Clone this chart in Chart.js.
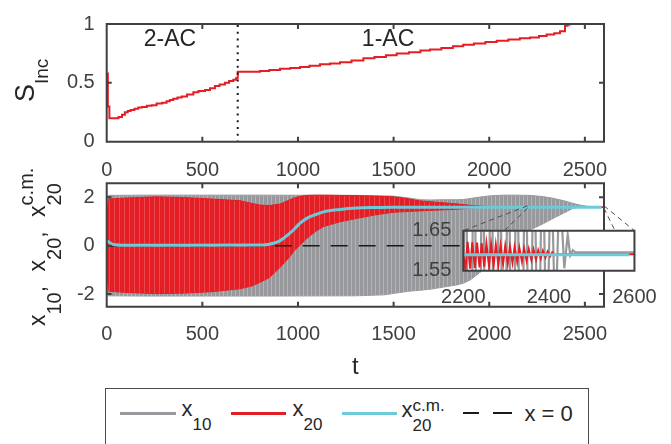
<!DOCTYPE html>
<html lang="en">
<head>
<meta charset="utf-8">
<title>S_Inc and oscillator traces</title>
<script src="https://cdn.jsdelivr.net/npm/chart.js@4.4.1/dist/chart.umd.min.js"></script>
<style>
  html, body { margin: 0; padding: 0; background: #fff; }
  body { position: relative; width: 671px; height: 444px; overflow: hidden;
         font-family: "Liberation Sans", Arial, Helvetica, sans-serif; color: #262626; }
  canvas { position: absolute; }
  .rot { position: absolute; left: 0; white-space: nowrap; transform-origin: 0 0; transform: rotate(-90deg); }
  .txt { position: absolute; white-space: nowrap; font-size: 22px; line-height: 22px; }
  .sb, .sp { position: relative; }
  #legend { position: absolute; left: 105px; top: 388px; width: 484px; height: 80px;
            border: 1px solid #4a4a4a; box-sizing: border-box; }
  .key { position: absolute; }
</style>
</head>
<body>
<canvas id="cTop"></canvas>
<canvas id="cMid"></canvas>
<canvas id="cZoom"></canvas>

<!-- axis titles -->
<div class="rot" style="left:12px; top:102px; font-size:27px; line-height:27px;">S<span class="sb" style="font-size:19px; top:14px;">Inc</span></div>
<div class="rot" style="left:25.5px; top:326px; font-size:23px; line-height:23px;">x<span class="sb" style="font-size:20px; top:16px;">10</span><span style="margin-right:8px">,</span> x<span class="sb" style="font-size:20px; top:16px;">20</span><span style="margin-right:8px">,</span> x<span class="sb" style="font-size:20px; top:16px;">20</span><span class="sp" style="font-size:20px; top:-12px; margin-left:-22.2px;">c.m.</span></div>

<!-- legend -->
<div id="legend"></div>
<div class="key" style="left:120px; top:411.5px; width:56px; height:3px; background:#98999c;"></div>
<div class="key" style="left:231px; top:411.5px; width:55px; height:3px; background:#e31e25;"></div>
<div class="key" style="left:342px; top:411.5px; width:55px; height:3px; background:#6dcad8;"></div>
<div class="key" style="left:463px; top:412.3px; width:16px; height:1.5px; background:#1a1a1a;"></div>
<div class="key" style="left:493px; top:412.3px; width:19px; height:1.5px; background:#1a1a1a;"></div>
<div class="txt" style="left:181.5px; top:398.4px;">x<span class="sb" style="font-size:17px; top:14px;">10</span></div>
<div class="txt" style="left:292.5px; top:398.4px;">x<span class="sb" style="font-size:17px; top:14px;">20</span></div>
<div class="txt" style="left:401.5px; top:399.4px;">x<span class="sb" style="font-size:17px; top:14px;">20</span><span class="sp" style="font-size:17px; top:-6.5px; margin-left:-18.9px;">c.m.</span></div>
<div class="txt" style="left:524.5px; top:403.4px;">x = 0</div>

<script>
// ---------------- data ----------------
// time axis ticks
const tTicks = [0, 500, 1000, 1500, 2000, 2500];

// S_Inc staircase (value holds from each time until the next)
const sIncT = [0, 6, 14, 62, 80, 95, 110, 125, 145, 165, 185, 210, 235, 261, 290, 313, 330, 348, 370, 392,
  420, 453, 480, 514, 540, 566, 590, 618, 640, 662, 676, 685, 801, 850, 906, 960, 1011, 1060, 1115, 1168,
  1220, 1280, 1342, 1400, 1460, 1516, 1580, 1640, 1690, 1750, 1810, 1864, 1920, 1980, 2039, 2100, 2160, 2213, 2260, 2300,
  2340, 2370, 2396, 2410, 2422, 2600];
const sIncV = [0.58, 0.30, 0.20, 0.21, 0.23, 0.25, 0.26, 0.27, 0.28, 0.29, 0.295, 0.305, 0.31, 0.325, 0.33, 0.343, 0.355, 0.365, 0.375, 0.384,
  0.40, 0.42, 0.43, 0.44, 0.455, 0.473, 0.485, 0.50, 0.515, 0.527, 0.54, 0.595, 0.60, 0.61, 0.62, 0.627, 0.635, 0.645, 0.657, 0.665,
  0.676, 0.69, 0.708, 0.72, 0.735, 0.749, 0.76, 0.775, 0.784, 0.797, 0.81, 0.824, 0.835, 0.847, 0.857, 0.868, 0.878, 0.886, 0.897, 0.91,
  0.922, 0.938, 0.986, 0.995, 1.0, 1.0];
const sIncTicks = [0, 0.5, 1];
const regimeBoundaryT = 685;
const regimeNames = ['2-AC', '1-AC'];

// x10 oscillation envelope
const x10T  = [0, 8, 200, 800, 1300, 1450, 1500, 1580, 1640, 1690, 1760, 1830, 1864, 1900, 1960, 2000, 2073, 2140, 2213, 2280, 2334, 2390, 2439, 2470, 2510, 2600];
const x10Hi = [1.40, 2.08, 2.09, 2.09, 2.08, 2.06, 2.05, 1.97, 1.90, 1.89, 1.90, 1.90, 1.91, 1.95, 2.02, 2.06, 2.09, 2.09, 2.08, 2.03, 1.96, 1.86, 1.75, 1.69, 1.63, 1.60];
const x10Lo = [-1.90, -2.07, -2.08, -2.08, -2.07, -2.03, -1.97, -1.88, -1.84, -1.80, -1.71, -1.62, -1.55, -1.42, -1.05, -0.70, -0.20, 0.25, 0.65, 0.90, 1.13, 1.35, 1.55, 1.58, 1.59, 1.59];

// x20 oscillation envelope
const x20T  = [0, 12, 100, 260, 400, 550, 697, 760, 800, 850, 906, 958, 976, 1011, 1046, 1090, 1133, 1220, 1307, 1400,
  1497, 1560, 1638, 1720, 1812, 1864, 1900, 1950, 2000, 2100, 2600];
const x20Hi = [1.20, 1.93, 1.97, 2.02, 1.99, 1.93, 1.86, 1.75, 1.68, 1.66, 1.72, 1.90, 1.96, 2.04, 2.08, 2.09, 2.09, 2.08, 2.07, 2.05,
  2.02, 1.96, 1.85, 1.80, 1.74, 1.70, 1.67, 1.64, 1.62, 1.61, 1.60];
const x20Lo = [-1.10, -1.88, -1.93, -1.98, -1.96, -1.90, -1.78, -1.66, -1.52, -1.32, -0.90, -0.45, -0.25, 0.02, 0.30, 0.58, 0.79, 0.99, 1.13, 1.27,
  1.38, 1.41, 1.44, 1.47, 1.50, 1.53, 1.56, 1.58, 1.59, 1.59, 1.59];

// centre-of-mass trace of x20
const cmT = [0, 10, 25, 45, 80, 400, 820, 850, 870, 900, 923, 950, 976, 1011, 1046, 1090, 1133, 1220, 1307, 1400, 1500, 2588];
const cmV = [0.20, 0.16, 0.08, 0.04, 0.02, 0.02, 0.03, 0.06, 0.10, 0.18, 0.30, 0.47, 0.65, 0.93, 1.13, 1.28, 1.40, 1.50, 1.56, 1.58, 1.59, 1.59];

// reference line x = 0
const zeroT = [0, 2600];
const zeroV = [0, 0];
const xTicksMid = [-2, 0, 2];

// magnified window
const zoomT = [2200, 2600];
const zoomV = [1.55, 1.65];
const zoomTTicks = [2200, 2400, 2600];
const zoomVTicks = [1.55, 1.65];
// x10 swings inside the window
const x10ZoomT = [2200, 2205, 2215, 2225, 2235, 2245, 2255, 2265, 2275, 2285, 2295, 2305, 2315, 2325, 2335, 2345, 2355, 2365, 2375, 2385,
  2395, 2405, 2415, 2425, 2436, 2444, 2450, 2456, 2462, 2600];
const x10ZoomV = [1.40, 2.08, 0.70, 2.08, 0.75, 2.07, 0.80, 2.06, 0.85, 2.04, 0.90, 2.02, 0.95, 2.00, 1.00, 1.98, 1.10, 1.94, 1.20, 1.90,
  1.30, 1.85, 1.40, 1.78, 1.556, 1.64, 1.588, 1.601, 1.596, 1.596];
// x20 swings inside the window
const x20ZoomT = [2200, 2205, 2210, 2216, 2221, 2227, 2232, 2238, 2243, 2249, 2254, 2260, 2265, 2271, 2276, 2282, 2287, 2293, 2298, 2304,
  2309, 2315, 2320, 2326, 2331, 2337, 2342, 2348, 2353, 2359, 2364, 2370, 2375, 2381, 2386, 2392, 2397, 2403, 2408, 2414, 2420, 2600];
const x20ZoomV = [1.590, 1.553, 1.622, 1.555, 1.621, 1.557, 1.620, 1.558, 1.619, 1.560, 1.618, 1.562, 1.616, 1.563, 1.615, 1.565, 1.613, 1.567, 1.612, 1.568,
  1.610, 1.570, 1.609, 1.572, 1.607, 1.573, 1.606, 1.575, 1.604, 1.577, 1.603, 1.578, 1.601, 1.580, 1.600, 1.583, 1.598, 1.586, 1.596, 1.589, 1.591, 1.591];

// ---------------- style ----------------
const INK = '#404040';
const GRAY = '#98999c';
const RED = '#e31e25';
const CYAN = '#6dcad8';
const FONT = '"Liberation Sans", Arial, Helvetica, sans-serif';

Chart.defaults.font.family = FONT;
Chart.defaults.font.size = 20;
Chart.defaults.color = INK;
Chart.defaults.animation = false;
Chart.defaults.events = [];
Chart.defaults.plugins.legend.display = false;
Chart.defaults.plugins.tooltip.enabled = false;
Chart.defaults.elements.point.radius = 0;

const pts = (ts, vs) => ts.map((t, i) => ({ x: t, y: vs[i] }));

// faint vertical streaks, as left by densely packed oscillation strokes
function streaks(base, light, period) {
  const c = document.createElement('canvas');
  c.width = period; c.height = 1;
  const g = c.getContext('2d');
  g.fillStyle = base; g.fillRect(0, 0, period, 1);
  g.fillStyle = light; g.fillRect(period - 1, 0, 1, 1);
  return g.createPattern(c, 'repeat');
}

// canvas placement on the page
const TOP = { left: 0, top: 0, w: 671, h: 190 };
const MID = { left: 0, top: 155, w: 671, h: 230 };
const ZOOM = { left: 400, top: 195, w: 271, h: 115 };

function place(id, p) {
  const c = document.getElementById(id);
  c.width = p.w; c.height = p.h;
  c.style.left = p.left + 'px'; c.style.top = p.top + 'px';
  c.style.width = p.w + 'px'; c.style.height = p.h + 'px';
  return c;
}

const fixedTicks = values => scale => { scale.ticks = values.map(v => ({ value: v })); };

function axisX(min, max, ticks, height, pad, title) {
  return {
    type: 'linear', position: 'bottom', min, max,
    grid: { display: false, drawTicks: false }, border: { display: false },
    afterBuildTicks: fixedTicks(ticks),
    afterFit: s => { s.height = height; },
    ticks: { padding: pad, maxRotation: 0, autoSkip: false, color: INK, callback: v => String(v) },
    title: title || { display: false }
  };
}
function axisY(min, max, ticks, width, pad) {
  return {
    type: 'linear', position: 'left', min, max,
    grid: { display: false, drawTicks: false }, border: { display: false },
    afterBuildTicks: fixedTicks(ticks),
    afterFit: s => { s.width = width; },
    ticks: { padding: pad, autoSkip: false, color: INK, callback: v => String(v) }
  };
}

// box around the plot area with inward tick marks on all four sides
function frame(tickLen) {
  return {
    id: 'frame',
    afterDraw(chart) {
      const { ctx, chartArea: a, scales: { x, y } } = chart;
      ctx.save();
      ctx.strokeStyle = INK;
      ctx.lineWidth = 2;
      ctx.beginPath();
      if (tickLen > 0) {
        x.ticks.forEach(t => {
          const p = x.getPixelForValue(t.value);
          ctx.moveTo(p, a.bottom); ctx.lineTo(p, a.bottom - tickLen);
          ctx.moveTo(p, a.top); ctx.lineTo(p, a.top + tickLen);
        });
        y.ticks.forEach(t => {
          const p = y.getPixelForValue(t.value);
          ctx.moveTo(a.left, p); ctx.lineTo(a.left + tickLen, p);
          ctx.moveTo(a.right, p); ctx.lineTo(a.right - tickLen, p);
        });
      }
      ctx.rect(a.left, a.top, a.right - a.left, a.bottom - a.top);
      ctx.stroke();
      ctx.restore();
    }
  };
}

// dotted regime boundary and regime names
const regimes = {
  id: 'regimes',
  afterDatasetsDraw(chart) {
    const { ctx, chartArea: a, scales: { x, y } } = chart;
    const px = x.getPixelForValue(regimeBoundaryT);
    ctx.save();
    ctx.strokeStyle = '#1a1a1a';
    ctx.lineWidth = 2;
    ctx.setLineDash([2, 4.8]);
    ctx.beginPath(); ctx.moveTo(px, a.top + 1); ctx.lineTo(px, a.bottom); ctx.stroke();
    ctx.setLineDash([]);
    ctx.fillStyle = '#262626';
    ctx.font = '23px ' + FONT;
    ctx.textAlign = 'center';
    ctx.textBaseline = 'middle';
    const at = [{ t: 331, s: 0.865 }, { t: 1471, s: 0.865 }];
    regimeNames.forEach((name, i) => ctx.fillText(name, x.getPixelForValue(at[i].t), y.getPixelForValue(at[i].s)));
    ctx.restore();
  }
};

// ---------------- top panel: S_Inc ----------------
place('cTop', TOP);
new Chart(document.getElementById('cTop'), {
  type: 'line',
  data: { datasets: [{ data: pts(sIncT, sIncV), stepped: true, borderColor: RED, borderWidth: 2, fill: false }] },
  options: {
    responsive: false, maintainAspectRatio: false, devicePixelRatio: 1,
    layout: { padding: { top: 18.3, right: 67, bottom: 0, left: 0 } },
    scales: {
      x: axisX(0, 2600, tTicks, TOP.h - 141.7, 16.3),
      y: axisY(0, 1, sIncTicks, 106.7, 12)
    }
  },
  plugins: [regimes, frame(5)]
});

// ---------------- middle panel: x10, x20 ----------------
place('cMid', MID);
const midChart = new Chart(document.getElementById('cMid'), {
  type: 'line',
  data: {
    datasets: [
      { label: 'x20 c.m.', data: pts(cmT, cmV), borderColor: CYAN, borderWidth: 3, cubicInterpolationMode: 'monotone', fill: false },
      { label: 'x = 0', data: pts(zeroT, zeroV), borderColor: '#1a1a1a', borderWidth: 1.3, borderDash: [17, 11], fill: false },
      { label: 'x20', data: pts(x20T, x20Hi), borderColor: RED, backgroundColor: streaks(RED, '#e8474d', 5), borderWidth: 1, fill: '+1' },
      { label: 'x20 low', data: pts(x20T, x20Lo), borderColor: RED, borderWidth: 1, fill: false },
      { label: 'x10', data: pts(x10T, x10Hi), borderColor: GRAY, backgroundColor: streaks(GRAY, '#b3b4b7', 4), borderWidth: 1, fill: '+1' },
      { label: 'x10 low', data: pts(x10T, x10Lo), borderColor: GRAY, borderWidth: 1, fill: false }
    ]
  },
  options: {
    responsive: false, maintainAspectRatio: false, devicePixelRatio: 1,
    layout: { padding: { top: 183.3 - MID.top, right: 67, bottom: 0, left: 0 } },
    scales: {
      x: axisX(0, 2600, tTicks, MID.top + MID.h - 306.7, 15.3,
        { display: true, text: 't', color: '#262626', font: { size: 24 }, padding: { top: 0, bottom: 3 } }),
      y: axisY(-2.52, 2.58, xTicksMid, 106.7, 12)
    }
  },
  plugins: [frame(5)]
});

// ---------------- magnified window ----------------
const zoomBackdrop = {
  id: 'zoomBackdrop',
  beforeDatasetsDraw(chart) {
    const { ctx, chartArea: a } = chart;
    const sx = midChart.scales.x, sy = midChart.scales.y;
    const dx = MID.left - ZOOM.left, dy = MID.top - ZOOM.top;
    const src = (t, v) => [sx.getPixelForValue(t) + dx, sy.getPixelForValue(v) + dy];
    const links = [
      [src(zoomT[0], zoomV[1]), [a.left, a.top]],
      [src(zoomT[0], zoomV[0]), [a.left, a.bottom]],
      [src(zoomT[1], zoomV[1]), [a.right, a.top]],
      [src(zoomT[1], zoomV[0]), [a.right, a.bottom]]
    ];
    ctx.save();
    ctx.strokeStyle = '#4d4d4d';
    ctx.lineWidth = 1;
    ctx.setLineDash([5, 4]);
    ctx.beginPath();
    links.forEach(([p, q]) => { ctx.moveTo(p[0], p[1]); ctx.lineTo(q[0], q[1]); });
    ctx.stroke();
    ctx.setLineDash([]);
    ctx.fillStyle = '#fff';
    ctx.fillRect(a.left, a.top, a.right - a.left, a.bottom - a.top);
    ctx.restore();
  }
};

place('cZoom', ZOOM);
new Chart(document.getElementById('cZoom'), {
  type: 'line',
  data: {
    datasets: [
      { data: pts(cmT, cmV), borderColor: CYAN, borderWidth: 3, fill: false, clip: 0 },
      { data: pts(x20ZoomT, x20ZoomV), borderColor: RED, borderWidth: 2, fill: false, clip: 0 },
      { data: pts(x10ZoomT, x10ZoomV), borderColor: GRAY, borderWidth: 2.2, fill: false, clip: 0 }
    ]
  },
  options: {
    responsive: false, maintainAspectRatio: false, devicePixelRatio: 1,
    layout: { padding: { top: 230.7 - ZOOM.top, right: ZOOM.left + ZOOM.w - 637, bottom: 0, left: 0 } },
    scales: {
      x: axisX(zoomT[0], zoomT[1], zoomTTicks, ZOOM.top + ZOOM.h - 270.7, 14.3),
      y: axisY(zoomV[0], zoomV[1], zoomVTicks, 463.3 - ZOOM.left, 12)
    }
  },
  plugins: [zoomBackdrop, frame(0)]
});
</script>
</body>
</html>
